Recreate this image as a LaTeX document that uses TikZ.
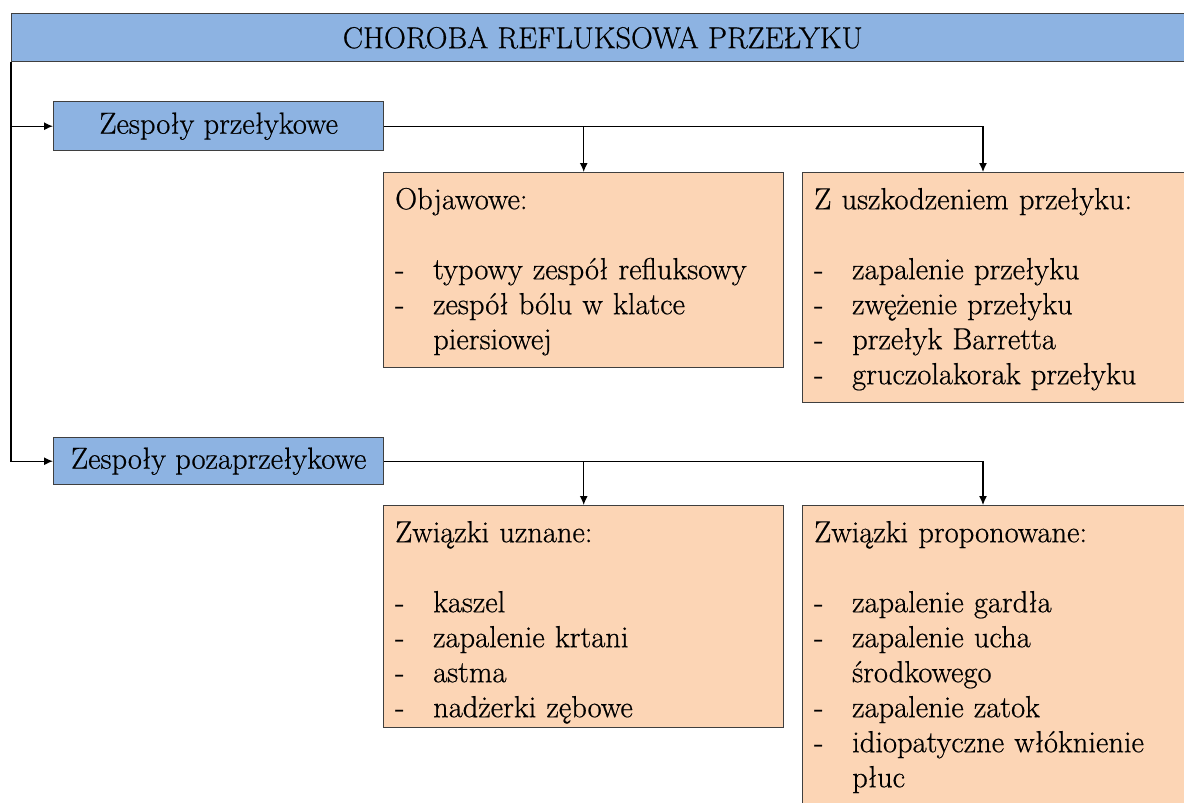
\documentclass[tikz,border=0pt]{standalone}
\usepackage{fontspec}
\setmainfont{Latin Modern Roman}[UprightFeatures={FakeBold=0.6}]
\usetikzlibrary{arrows.meta}
\definecolor{barblue}{HTML}{8DB3E2}
\definecolor{boxorange}{HTML}{FCD5B5}
\definecolor{edgegray}{HTML}{3F3F3F}
\newcommand{\dashitem}[1]{\makebox[38pt][l]{-}#1}
\newcommand{\dashcont}[1]{\hspace*{38pt}#1}

\begin{document}
\begin{tikzpicture}[x=1pt,y=-1pt]
        \tikzstyle{every node} = [font=\fontsize{30.5}{35}\selectfont]
        \tikzstyle{headbar} = [draw=edgegray, line width=1.4pt, fill=barblue, anchor=north west, inner sep=0pt]
        \tikzstyle{listbox} = [draw=edgegray, line width=1.4pt, fill=boxorange, anchor=north west, inner sep=0pt]
        \tikzstyle{listtext} = [anchor=north west, align=left, text width=370pt, inner xsep=12pt, inner ysep=12.5pt]
        \tikzstyle{link} = [line width=1.2pt, -{Latex[length=9pt,width=8pt]}]
        \useasboundingbox (0,0) rectangle (1184,803);
        \clip (0,0) rectangle (1184,803);
        \node[headbar, minimum width=1182pt, minimum height=48pt, font=\fontsize{30.3}{35}\selectfont] (title) at (11,13) {CHOROBA REFLUKSOWA PRZEŁYKU};
        \node[headbar, minimum width=330pt, minimum height=49pt] (zp) at (53,101) {Zespoły przełykowe};
        \node[headbar, minimum width=330pt, minimum height=47pt] (zpp) at (53,437) {Zespoły pozaprzełykowe};
        \node[listbox, minimum width=400pt, minimum height=195pt] (obj) at (383,172) {};
        \node[listbox, minimum width=400pt, minimum height=230pt] (usz) at (802,172) {};
        \node[listbox, minimum width=400pt, minimum height=222pt] (zu) at (383,505) {};
        \node[listbox, minimum width=400pt, minimum height=320pt] (zpr) at (802,505) {};
        \node[listtext] (objtext) at (obj.north west) {\strut Objawowe:\\ \strut\\
            \dashitem{typowy zespół refluksowy}\\ \dashitem{zespół bólu w klatce}\\ \dashcont{piersiowej}};
        \node[listtext] (usztext) at (usz.north west) {\strut Z uszkodzeniem przełyku:\\ \strut\\
            \dashitem{zapalenie przełyku}\\ \dashitem{zwężenie przełyku}\\ \dashitem{przełyk Barretta}\\ \dashitem{gruczolakorak przełyku}};
        \node[listtext] (zutext) at (zu.north west) {\strut Związki uznane:\\ \strut\\
            \dashitem{kaszel}\\ \dashitem{zapalenie krtani}\\ \dashitem{astma}\\ \dashitem{nadżerki zębowe}};
        \node[listtext] (zprtext) at (zpr.north west) {\strut Związki proponowane:\\ \strut\\
            \dashitem{zapalenie gardła}\\ \dashitem{zapalenie ucha}\\ \dashcont{środkowego}\\ \dashitem{zapalenie zatok}\\
            \dashitem{idiopatyczne włóknienie}\\ \dashcont{płuc}};
        \foreach \to in {zp, zpp}
            \draw[link] (title.south west) |- (\to.west);
        \foreach \from/\to in {zp/obj, zpp/zu}
            \draw[link] (\from.east) -| (\to.north);
        \foreach \from/\to in {zp/usz, zpp/zpr}
            \draw[link] (\from.east) -| ([xshift=181pt]\to.north west);
    \end{tikzpicture}
\end{document}
